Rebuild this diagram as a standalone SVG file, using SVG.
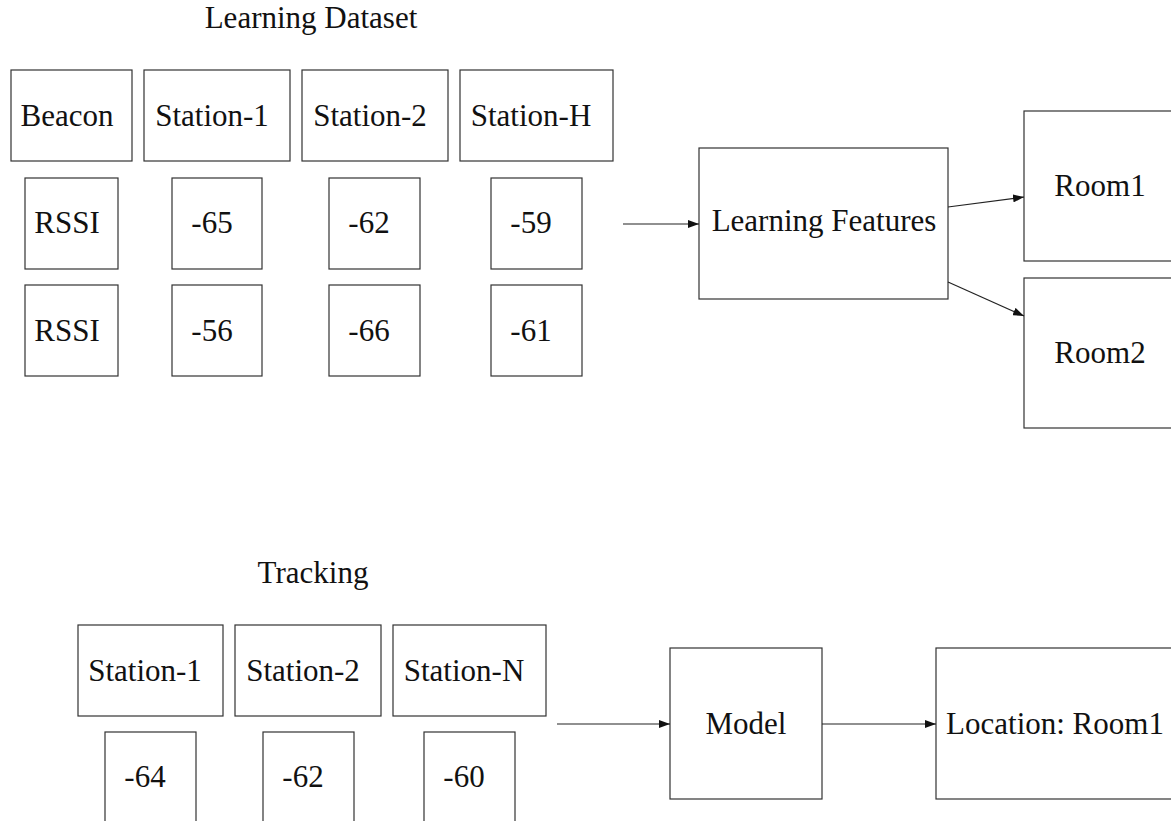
<svg xmlns="http://www.w3.org/2000/svg" width="1171" height="821" viewBox="0 0 1171 821">
<style>
  .box{fill:#fff;stroke:#333;stroke-width:1.2}
  .edge{stroke:#222;stroke-width:1.2;fill:none;marker-end:url(#ah)}
</style>
<defs>
  <marker id="ah" markerUnits="userSpaceOnUse" markerWidth="11" markerHeight="8" refX="11" refY="4" orient="auto">
    <path d="M0,0 L11,4 L0,8 z" fill="#111"/>
  </marker>
</defs>
<rect width="1171" height="821" fill="#fff"/>
<g font-family="Liberation Serif, DejaVu Serif, serif" font-size="31" fill="#111" text-anchor="middle">
<text id="title-learning" x="311" y="28">Learning Dataset</text>
<text id="title-tracking" x="313" y="583">Tracking</text>

<g id="h-beacon"><rect class="box" x="11" y="70" width="121" height="91"/><text x="67" y="126">Beacon</text></g>
<g id="h-st1"><rect class="box" x="144" y="70" width="146" height="91"/><text x="212" y="126">Station-1</text></g>
<g id="h-st2"><rect class="box" x="302" y="70" width="146" height="91"/><text x="370" y="126">Station-2</text></g>
<g id="h-sth"><rect class="box" x="460" y="70" width="153" height="91"/><text x="531" y="126">Station-H</text></g>

<g id="r1-rssi"><rect class="box" x="25" y="178" width="93" height="91"/><text x="67" y="233">RSSI</text></g>
<g id="r1-65"><rect class="box" x="172" y="178" width="90" height="91"/><text x="212" y="233">-65</text></g>
<g id="r1-62"><rect class="box" x="329" y="178" width="91" height="91"/><text x="369" y="233">-62</text></g>
<g id="r1-59"><rect class="box" x="491" y="178" width="91" height="91"/><text x="531" y="233">-59</text></g>

<g id="r2-rssi"><rect class="box" x="25" y="285" width="93" height="91"/><text x="67" y="341">RSSI</text></g>
<g id="r2-56"><rect class="box" x="172" y="285" width="90" height="91"/><text x="212" y="341">-56</text></g>
<g id="r2-66"><rect class="box" x="329" y="285" width="91" height="91"/><text x="369" y="341">-66</text></g>
<g id="r2-61"><rect class="box" x="491" y="285" width="91" height="91"/><text x="531" y="341">-61</text></g>

<g id="lf"><rect class="box" x="699" y="148" width="249" height="151"/><text x="824" y="231">Learning Features</text></g>
<g id="room1"><rect class="box" x="1024" y="111" width="152" height="150"/><text x="1100" y="196">Room1</text></g>
<g id="room2"><rect class="box" x="1024" y="278" width="152" height="150"/><text x="1100" y="363">Room2</text></g>

<g id="t-st1"><rect class="box" x="78" y="625" width="145" height="91"/><text x="145" y="681">Station-1</text></g>
<g id="t-st2"><rect class="box" x="235" y="625" width="146" height="91"/><text x="303" y="681">Station-2</text></g>
<g id="t-stn"><rect class="box" x="393" y="625" width="153" height="91"/><text x="464" y="681">Station-N</text></g>

<g id="t-64"><rect class="box" x="105" y="732" width="91" height="91"/><text x="145" y="787">-64</text></g>
<g id="t-62"><rect class="box" x="263" y="732" width="91" height="91"/><text x="303" y="787">-62</text></g>
<g id="t-60"><rect class="box" x="424" y="732" width="91" height="91"/><text x="464" y="787">-60</text></g>

<g id="model"><rect class="box" x="670" y="648" width="152" height="151"/><text x="746" y="734">Model</text></g>
<g id="location"><rect class="box" x="936" y="648" width="240" height="151"/><text x="1055" y="734">Location: Room1</text></g>
</g>
<g id="connectors">
  <line class="edge" x1="623" y1="224" x2="699" y2="224"/>
  <line class="edge" x1="948" y1="207" x2="1024" y2="197"/>
  <line class="edge" x1="948" y1="282" x2="1024" y2="316"/>
  <line class="edge" x1="557" y1="724" x2="670" y2="724"/>
  <line class="edge" x1="822" y1="724" x2="936" y2="724"/>
</g>
</svg>
